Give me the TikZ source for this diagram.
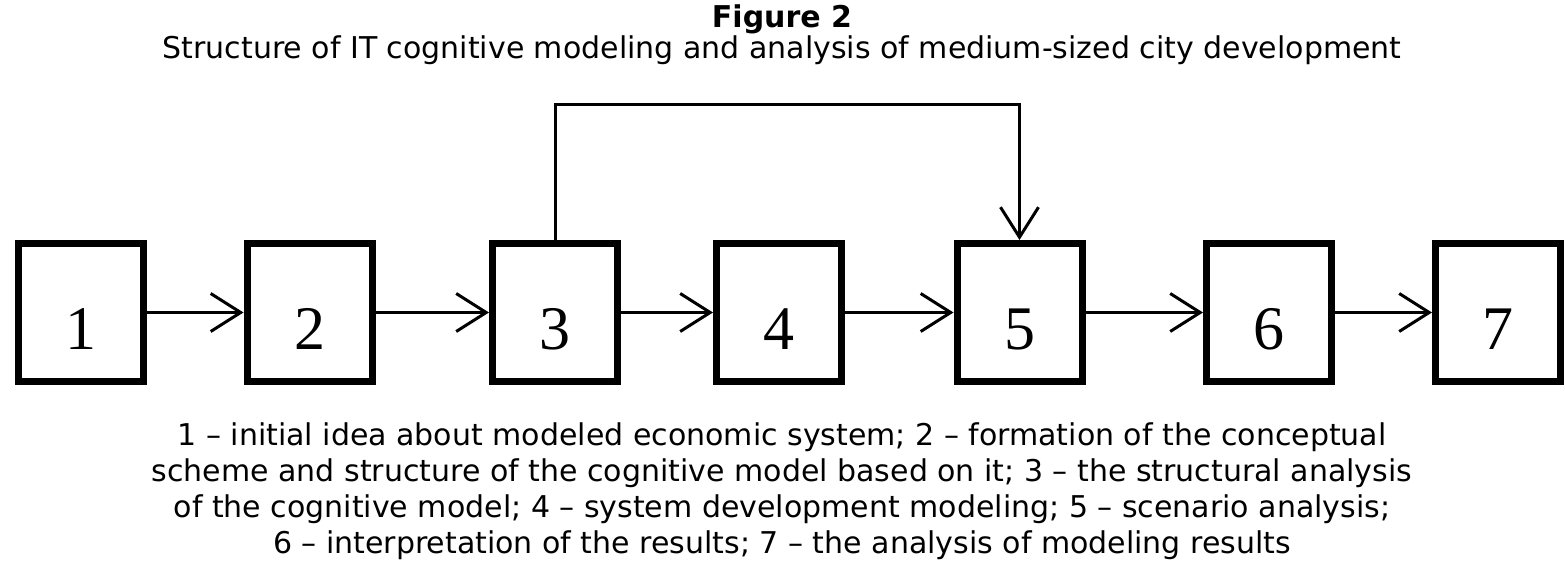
\documentclass[tikz,border=0pt]{standalone}
\usepackage{fontspec}
\setmainfont{DejaVu Sans}
\newfontfamily\digitfont{Liberation Serif}
\usetikzlibrary{arrows.meta}
\begin{document}
\begin{tikzpicture}[x=1pt,y=-1pt]
    \useasboundingbox (0,0) rectangle (1565,561);
    \tikzset{stage/.style={draw, line width=7pt, minimum width=125pt, minimum height=138pt,
        inner sep=0pt, font=\digitfont\fontsize{62}{62}\selectfont, text height=74pt, text depth=0pt},
        flow/.style={line width=3pt, -{Straight Barb[length=30pt,width=38pt,line width=3pt]}}}
    \node[font=\bfseries\fontsize{30}{34}\selectfont] (title) at (782,19) {Figure 2};
    \node[font=\fontsize{30}{34}\selectfont] (subtitle) at (782,50) {Structure of IT cognitive modeling and analysis of medium-sized city development};
    \node[stage] (s1) at (81,312.5) {1};
    \node[stage] (s2) at (309.5,312.5) {2};
    \node[stage] (s3) at (555,312.5) {3};
    \node[stage] (s4) at (779,312.5) {4};
    \node[stage] (s5) at (1019.5,312.5) {5};
    \node[stage] (s6) at (1269,312.5) {6};
    \node[stage] (s7) at (1498,312.5) {7};
    \draw[flow] (s1) -- (s2);
    \draw[flow] (s2) -- (s3);
    \draw[flow] (s3) -- (s4);
    \draw[flow] (s4) -- (s5);
    \draw[flow] (s5) -- (s6);
    \draw[flow] (s6) -- (s7);
    % feedback from 3 to 5
    \draw[flow] (s3.north) -- (s3.north |- 0,105) -- (s5.north |- 0,105) -- (s5.north);
    \node[align=center, font=\fontsize{30}{36}\selectfont] (legend) at (782,491)
        {1 -- initial idea about modeled economic system; 2 -- formation of the conceptual\\
         scheme and structure of the cognitive model based on it; 3 -- the structural analysis\\
         of the cognitive model; 4 -- system development modeling; 5 -- scenario analysis;\\
         6 -- interpretation of the results; 7 -- the analysis of modeling results};
\end{tikzpicture}
\end{document}
